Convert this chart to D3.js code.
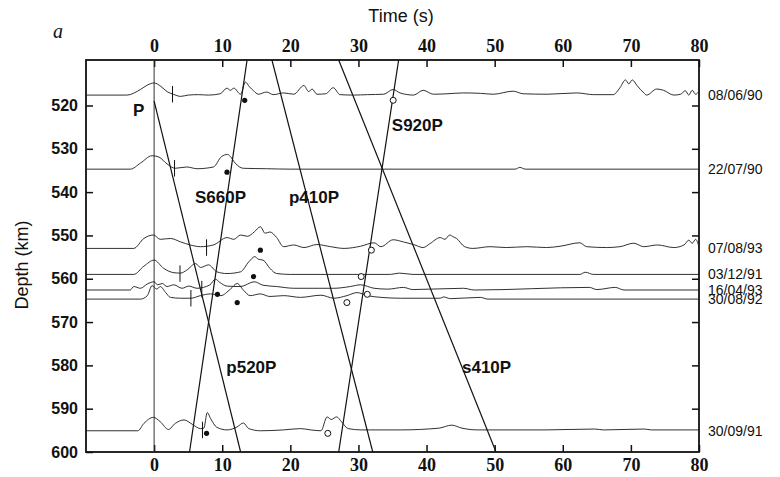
<!DOCTYPE html>
<html>
<head>
<meta charset="utf-8">
<script src="https://cdn.jsdelivr.net/npm/d3@7"></script>
<style>
  body { margin: 0; background: #fff; }
  svg { display: block; }
  .axis text { fill: #111; }
</style>
</head>
<body>
<div id="chart"></div>
<script>
// ---- data ----
const timeTicks = [0, 10, 20, 30, 40, 50, 60, 70, 80];
const depthTicks = [520, 530, 540, 550, 560, 570, 580, 590, 600];

const traceDates = ['08/06/90', '22/07/90', '07/08/93', '03/12/91', '16/04/93', '30/08/92', '30/09/91'];
const traceDepths = [517.6, 534.7, 553.0, 559.0, 562.6, 564.7, 595.1];

// waveforms: [time (s), upward deflection (km)]
const wave080690 = [[-10,0],[-4,0],[-2,1.3],[-1,2.3],[0,2.8],[1,2.0],[1.9,0.8],[2.8,0.2],[3.9,-0.3],[5,0],[6.5,0.1],[8,0],[9.7,0.3],[10.7,1.6],[11.2,1.1],[11.7,1.6],[12.7,0.2],[13.4,3.0],[14,1.9],[14.6,1.0],[15.3,0.2],[16.5,0.7],[17.5,0.1],[19,0.5],[20.5,0.2],[22,2.2],[22.7,0.8],[23.2,1.4],[23.9,0.2],[25.2,0.3],[26.3,1.7],[27.3,0.1],[29.3,0],[31.3,0.1],[33.7,0.2],[35.1,1.3],[36.1,0.5],[38.1,0],[39.5,1.1],[41,0.2],[43,0.3],[45.4,0.5],[47.9,0.4],[49.8,0.2],[52.7,0.9],[54.2,0.3],[57.7,0.2],[62.1,0.5],[64.5,0.1],[67.4,0.1],[68.4,1.7],[69.2,3.5],[69.7,2.6],[70.2,3.5],[70.9,2.2],[71.9,0.5],[72.3,0],[73.8,1.4],[74.8,1.1],[76.3,0],[77.3,0.2],[78,1.0],[78.5,0],[79,1.1],[79.5,0.2],[80,0.9]];
const wave220790 = [[-10,0],[-3.5,0],[-2,1.4],[-0.3,3.1],[0.7,2.8],[1.9,1.2],[3.1,0.2],[4.8,0.5],[6.3,0.1],[8.7,0.5],[9.9,2.9],[10.8,3.4],[11.2,2.9],[11.9,1.4],[13.1,0.2],[16.5,0.1],[20,0],[53,0],[53.7,0.4],[54.5,0],[80,0]];
const wave070893 = [[-10,0],[-3,0],[-1.5,2.3],[-0.1,3.1],[0.9,2.1],[2.4,2.3],[3.9,1.5],[5.3,0.8],[6.8,0.4],[8.7,0.8],[10.7,2.5],[11.7,2.1],[12.7,3.1],[13.7,2.8],[14.7,3.8],[15.6,5.0],[16.3,3.5],[17,3.8],[18,2.5],[19,0.4],[20.5,0.8],[22,0.2],[23.9,0.9],[25.9,0.4],[27.9,0],[30.3,0.5],[32.3,1.3],[33.3,0.4],[35.1,2.0],[36.6,1.5],[38.1,0.9],[39.5,0.2],[40.5,1.1],[42,2.5],[42.7,2.1],[43.4,3.1],[43.9,2.7],[44.4,2.3],[45.6,0.4],[46.8,0],[49.3,0.4],[51.7,0.2],[54.7,0.4],[57.6,0.2],[59.6,0.5],[62.5,1.3],[63.5,0.4],[66.4,0.2],[68.4,0.4],[70.4,1.2],[71.9,0.4],[73.9,0.8],[76.3,0.2],[77.8,0.8],[78.5,1.9],[79,1.2],[79.5,2.1],[80,0.4]];
const wave031291 = [[-10,0],[-3,0],[-1.5,1.9],[0,3.3],[1.4,1.4],[2.9,0.4],[3.9,0.3],[4.8,1.0],[6.1,2.5],[6.8,1.6],[8,2.2],[9.2,0.6],[10.7,0.2],[12.7,0.6],[13.9,2.9],[14.8,4.1],[15.3,3.5],[16,3.3],[17,1.4],[18,0.2],[20,0],[34.7,0],[36,0.3],[38,0],[62.5,0],[63.3,0.5],[64.5,0],[80,0]];
const wave160493 = [[-10,0],[-3.5,0],[-3,0.8],[-2,0.4],[-1,1.4],[0,1.9],[0.5,1.2],[1.2,1.5],[1.9,0.8],[2.9,1.2],[4.1,0.4],[5.1,0.9],[6.3,0.4],[8.2,1.2],[9.0,2.5],[9.6,1.8],[10.7,0.9],[12.7,0.8],[14.7,1.9],[16,1.1],[18,0.8],[20.5,0.4],[26.4,0.4],[28.8,0.8],[30.3,1.2],[32.3,0.4],[34.3,0.2],[36.6,0.6],[38,0.1],[45.4,0.4],[47,0],[63.9,0.6],[65,0.1],[67.7,0.6],[69,0],[80,0]];
const wave300892 = [[-10,0],[-2,0],[-1,0.8],[-0.3,3.1],[0.4,2.3],[0.9,2.9],[1.7,1.5],[2.4,0.4],[3.9,0.2],[5.4,0.2],[6.8,0.8],[8.3,1.2],[9.8,0.8],[11.2,2.3],[12.2,3.6],[13.1,2.1],[14.1,0.8],[15.6,1.2],[17,0.6],[19,0.8],[21.5,0.4],[24.5,0.9],[26.4,0.2],[28.3,0.8],[29.8,1.5],[31.3,0.8],[33.3,0.4],[36.2,0.2],[42,0.2],[42.5,0.5],[43.5,0.1],[47.9,0.4],[49,0],[80,0]];
const wave300991 = [[-10,0],[-2.4,0],[-1.5,1.7],[-0.1,3.1],[0.9,2.1],[2.1,0.3],[3.1,1.7],[4.4,2.5],[5.6,1.5],[6.8,0.5],[7.3,0.6],[7.8,4.2],[8.3,2.8],[9.2,0.8],[10.7,0.2],[12.2,0.9],[13.1,1.8],[13.9,0.5],[15.6,0],[19,0.2],[21.5,0.5],[23,0.2],[24.5,0],[25.4,3.2],[26,2.6],[26.8,3.2],[27.5,2.1],[28.5,0.5],[30.4,0.2],[36.2,0.2],[41.8,0.6],[43.7,1.3],[45.2,0.6],[47.6,0.2],[57.4,0.2],[64.7,0.4],[66,0.2],[72,0.4],[73,0.2],[80,0.2]];
const waves = [wave080690, wave220790, wave070893, wave031291, wave160493, wave300892, wave300991];

// hand-picked onset marks (s), one per trace
const pickTimes = [2.7, 3.0, 7.7, 3.8, 7.0, 5.4, 7.1];

// picked converted-phase arrivals [time, depth]
const filledPicks = [[13.3, 518.8], [10.7, 535.4], [15.6, 553.4], [14.6, 559.5], [9.3, 563.6], [12.2, 565.5], [7.7, 595.7]];
const openPicks = [[35.1, 518.8], [31.9, 553.4], [30.4, 559.5], [31.3, 563.6], [28.3, 565.5], [25.5, 595.7]];

// predicted travel-time lines [[t1, d1], [t2, d2]]
const phaseNames = ['P', 'p520P', 'S660P', 'p410P', 'S920P', 's410P'];
const phaseLines = [
  [[0, 509.5], [0, 600]],
  [[0, 519], [12.7, 600]],
  [[5.2, 600], [13.65, 509.5]],
  [[17.3, 509.5], [32.1, 600]],
  [[27.1, 600], [35.9, 509.5]],
  [[27.1, 509.5], [50.2, 600]]
];
// label anchors [time, depth] (left edge, baseline)
const phaseLabelPos = [[-3.1, 522.4], [10.6, 581.8], [6.0, 542.5], [19.8, 542.5], [34.9, 526.0], [45.2, 581.8]];

// ---- drawing ----
const W = 780, H = 477;
const margin = { top: 60, right: 81, bottom: 25, left: 86 };
const w = W - margin.left - margin.right;
const h = H - margin.top - margin.bottom;

const root = d3.select('#chart').append('svg')
  .attr('width', W).attr('height', H);
const svg = root.append('g')
  .attr('transform', `translate(${margin.left},${margin.top})`);

const x = d3.scaleLinear().domain([-10, 80]).range([0, w]);
const y = d3.scaleLinear().domain([509.5, 600]).range([0, h]);

svg.append('clipPath').attr('id', 'plot')
  .append('rect').attr('width', w).attr('height', h);

const sans = 'Liberation Sans, Arial, Helvetica, sans-serif';
const serif = 'Liberation Serif, Times New Roman, serif';

// Axes (ticks point inward)
const styleAxis = (g, font, size, weight) => {
  g.select('.domain').remove();
  g.selectAll('line').attr('stroke', '#111').attr('stroke-width', 1.5);
  g.selectAll('text').attr('font-family', font).attr('font-size', size)
    .attr('font-weight', weight).attr('fill', '#111');
};

svg.append('g').attr('class', 'axis')
  .call(d3.axisTop(x).tickValues(timeTicks).tickSize(-7).tickPadding(8))
  .call(g => styleAxis(g, serif, 18, 'bold'));

svg.append('g').attr('class', 'axis')
  .attr('transform', `translate(0,${h})`)
  .call(d3.axisBottom(x).tickValues(timeTicks).tickSize(-7).tickPadding(6))
  .call(g => styleAxis(g, serif, 18, 'bold'));

svg.append('g').attr('class', 'axis')
  .call(d3.axisLeft(y).tickValues(depthTicks).tickSize(-7).tickPadding(8))
  .call(g => styleAxis(g, sans, 16, 'bold'));

svg.append('g').attr('class', 'axis')
  .attr('transform', `translate(${w},0)`)
  .call(d3.axisRight(y).tickValues(depthTicks.slice(0, -1)).tickSize(-7).tickFormat(''))
  .call(g => styleAxis(g, sans, 16, 'bold'));

// Frame
svg.append('rect')
  .attr('width', w).attr('height', h)
  .attr('fill', 'none').attr('stroke', '#111').attr('stroke-width', 1.8);

const plot = svg.append('g').attr('clip-path', 'url(#plot)');

// Travel-time lines
phaseLines.forEach((seg, i) => {
  plot.append('line')
    .attr('x1', x(seg[0][0])).attr('y1', y(seg[0][1]))
    .attr('x2', x(seg[1][0])).attr('y2', y(seg[1][1]))
    .attr('stroke', i === 0 ? '#333' : '#111')
    .attr('stroke-width', i === 0 ? 1 : 1.2);
});

// Seismograms
const line = d3.line()
  .x(d => x(d[0]))
  .y(d => d[1])
  .curve(d3.curveMonotoneX);

waves.forEach((wv, i) => {
  const base = traceDepths[i];
  plot.append('path')
    .attr('d', line(wv.map(p => [p[0], y(base - p[1])])))
    .attr('fill', 'none')
    .attr('stroke', '#1a1a1a')
    .attr('stroke-width', 0.9);

  // onset mark
  plot.append('line')
    .attr('x1', x(pickTimes[i])).attr('x2', x(pickTimes[i]))
    .attr('y1', y(base - 2.1)).attr('y2', y(base + 1.7))
    .attr('stroke', '#111').attr('stroke-width', 1);

  // date label
  svg.append('text')
    .attr('x', w + 9).attr('y', y(base))
    .attr('dy', '0.36em')
    .attr('font-family', sans).attr('font-size', 14)
    .attr('fill', '#111')
    .text(traceDates[i]);
});

// Picked arrivals
plot.selectAll('.fpick').data(filledPicks).enter().append('circle')
  .attr('cx', d => x(d[0])).attr('cy', d => y(d[1]))
  .attr('r', 2.6).attr('fill', '#111');

plot.selectAll('.opick').data(openPicks).enter().append('circle')
  .attr('cx', d => x(d[0])).attr('cy', d => y(d[1]))
  .attr('r', 3).attr('fill', '#fff')
  .attr('stroke', '#111').attr('stroke-width', 1);

// Phase labels
phaseNames.forEach((name, i) => {
  svg.append('text')
    .attr('x', x(phaseLabelPos[i][0])).attr('y', y(phaseLabelPos[i][1]))
    .attr('font-family', sans).attr('font-size', 17).attr('font-weight', 'bold')
    .attr('fill', '#111')
    .text(name);
});

// Titles
root.append('text')
  .attr('x', 401).attr('y', 22)
  .attr('text-anchor', 'middle')
  .attr('font-family', sans).attr('font-size', 18)
  .attr('fill', '#111')
  .text('Time (s)');

root.append('text')
  .attr('transform', `translate(28,265) rotate(-90)`)
  .attr('text-anchor', 'middle')
  .attr('font-family', sans).attr('font-size', 18)
  .attr('fill', '#111')
  .text('Depth (km)');

root.append('text')
  .attr('x', 53).attr('y', 38)
  .attr('font-family', serif).attr('font-size', 20).attr('font-style', 'italic')
  .attr('fill', '#111')
  .text('a');
</script>
</body>
</html>
